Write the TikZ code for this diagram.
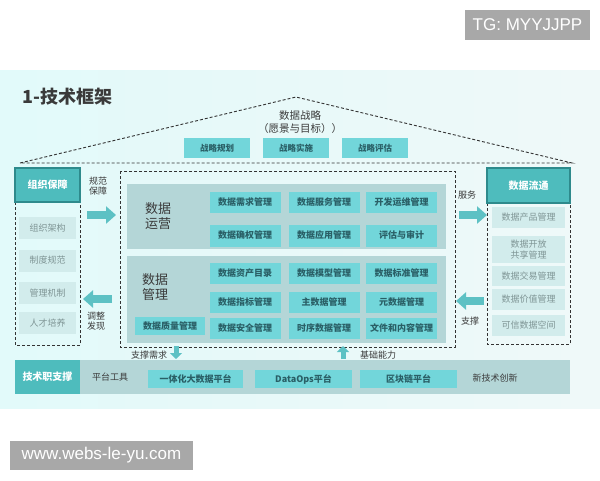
\documentclass[tikz,border=0pt]{standalone}
\usepackage{fontspec}
\setmainfont{Noto Sans CJK SC}
\newfontfamily\wmfont{Liberation Sans}
\usetikzlibrary{arrows.meta}
\definecolor{bgc}{HTML}{E5F5F5}
\definecolor{panelc}{HTML}{B4D6D7}
\definecolor{tboxc}{HTML}{72D6DA}
\definecolor{tboxt}{HTML}{2A5F66}
\definecolor{headc}{HTML}{4EBCBD}
\definecolor{headb}{HTML}{2E8A8C}
\definecolor{litec}{HTML}{D2ECEC}
\definecolor{litet}{HTML}{7F9595}
\definecolor{arrc}{HTML}{5DC1C4}
\definecolor{dashc}{HTML}{333333}
\definecolor{labc}{HTML}{3A3A3A}
\definecolor{wmc}{HTML}{A8A8A8}
\begin{document}
\begin{tikzpicture}[x=1pt,y=-1pt,
  tbox/.style={fill=tboxc, text=tboxt, font=\fontsize{9}{10}\selectfont\bfseries, inner sep=0pt, minimum width=71pt, minimum height=21pt},
  headbox/.style={fill=headc, draw=headb, line width=1.2pt, text=white, font=\fontsize{10}{12}\selectfont\bfseries, inner sep=0pt},
  litebox/.style={fill=litec, text=litet, font=\fontsize{9}{11.5}\selectfont, inner sep=0pt, align=center},
  panel/.style={fill=panelc, inner sep=0pt},
  dashbox/.style={draw=dashc, dashed, line width=0.9pt, dash pattern=on 3pt off 2pt},
  lab/.style={text=labc, font=\fontsize{9}{10.5}\selectfont, align=center, inner sep=0pt},
  biglab/.style={text=labc, font=\fontsize{13}{15}\selectfont, align=left, inner sep=0pt},
  bigarrow/.style={draw=arrc, line width=8pt, -{Triangle[length=10pt,width=17pt]}},
  smallarrow/.style={draw=arrc, line width=5pt, -{Triangle[length=6pt,width=12pt]}},
  wm/.style={fill=wmc, text=white, font=\wmfont\fontsize{17}{19}\selectfont, inner sep=0pt}
]
\useasboundingbox (0,0) rectangle (600,480);
\fill[white] (0,0) rectangle (600,480);
% background panel
\fill[left color=bgc!90!cyan!60!white, right color=bgc!60!white] (0,70) rectangle (600,408);
% watermarks
\node[wm, minimum width=125pt, minimum height=30pt] (wm1) at (527.5,25) {TG: MYYJJPP};
\node[wm, minimum width=183pt, minimum height=29pt] (wm2) at (101.5,455) {www.webs-le-yu.com};
% title
\node[anchor=west, text=labc, font=\fontsize{18}{20}\selectfont\bfseries, inner sep=0pt] (title) at (22,97) {1-技术框架};
% roof
\draw[dashbox] (20,163) -- (296,97) -- (572,163) -- cycle;
\node[text=labc, font=\fontsize{10.5}{13.5}\selectfont, align=center, inner sep=0pt] (strat) at (300,122) {数据战略\\（愿景与目标））};
\node[tbox, minimum width=66pt, minimum height=20pt, font=\fontsize{8.5}{10}\selectfont\bfseries] (s1) at (217,148) {战略规划};
\node[tbox, minimum width=66pt, minimum height=20pt, font=\fontsize{8.5}{10}\selectfont\bfseries] (s2) at (296,148) {战略实施};
\node[tbox, minimum width=66pt, minimum height=20pt, font=\fontsize{8.5}{10}\selectfont\bfseries] (s3) at (375,148) {战略评估};
% left column
\draw[dashbox] (15,202) rectangle (80,345);
\node[headbox, minimum width=65pt, minimum height=34pt] (lhead) at (47.5,185) {组织保障};
\node[litebox, minimum width=57pt, minimum height=22pt] (l1) at (47.5,228) {组织架构};
\node[litebox, minimum width=57pt, minimum height=22pt] (l2) at (47.5,260.5) {制度规范};
\node[litebox, minimum width=57pt, minimum height=22pt] (l3) at (47.5,293) {管理机制};
\node[litebox, minimum width=57pt, minimum height=22pt] (l4) at (47.5,323) {人才培养};
% right column
\draw[dashbox] (487,203) rectangle (570,344);
\node[headbox, minimum width=83pt, minimum height=35pt] (rhead) at (528.5,185.5) {数据流通};
\node[litebox, minimum width=73pt, minimum height=21pt] (r1) at (528.5,217.5) {数据产品管理};
\node[litebox, minimum width=73pt, minimum height=27pt] (r2) at (528.5,249.5) {数据开放\\共享管理};
\node[litebox, minimum width=73pt, minimum height=20pt] (r3) at (528.5,276) {数据交易管理};
\node[litebox, minimum width=73pt, minimum height=21pt] (r4) at (528.5,299.5) {数据价值管理};
\node[litebox, minimum width=73pt, minimum height=21pt] (r5) at (528.5,325.5) {可信数据空间};
% center
\draw[dashbox] (120,171) rectangle (455,347);
\node[panel, minimum width=319pt, minimum height=65pt] (ops) at (286.5,216.5) {};
\node[biglab] (opslab) at (158,216) {数据\\运营};
\node[tbox] (o1) at (245,202.5) {数据需求管理};
\node[tbox] (o2) at (324,202.5) {数据服务管理};
\node[tbox] (o3) at (401.5,202.5) {开发运维管理};
\node[tbox, minimum height=22pt] (o4) at (245,235.5) {数据确权管理};
\node[tbox, minimum height=22pt] (o5) at (324,235.5) {数据应用管理};
\node[tbox, minimum height=22pt] (o6) at (401.5,235.5) {评估与审计};
\node[panel, minimum width=319pt, minimum height=87pt] (mgmt) at (286.5,299.5) {};
\node[biglab] (mgmtlab) at (155,287) {数据\\管理};
\node[tbox] (m1) at (245,273.5) {数据资产目录};
\node[tbox] (m2) at (324,273.5) {数据模型管理};
\node[tbox] (m3) at (401.5,273.5) {数据标准管理};
\node[tbox] (m4) at (245,302) {数据指标管理};
\node[tbox] (m5) at (324,302) {主数据管理};
\node[tbox] (m6) at (401.5,302) {元数据管理};
\node[tbox] (m7) at (245,328.5) {数据安全管理};
\node[tbox] (m8) at (324,328.5) {时序数据管理};
\node[tbox] (m9) at (401.5,328.5) {文件和内容管理};
\node[tbox, minimum width=70pt, minimum height=18pt] (mq) at (170,326) {数据质量管理};
% bottom band
\node[panel, minimum width=555pt, minimum height=34pt] (band) at (292.5,377) {};
\node[fill=headc, text=white, font=\fontsize{10}{12}\selectfont\bfseries, inner sep=0pt, minimum width=65pt, minimum height=34pt] (bhead) at (47.5,377) {技术职支撑};
\node[lab] (ptool) at (110,377) {平台工具};
\node[tbox, minimum width=95pt, minimum height=18pt] (b1) at (195.5,379) {一体化大数据平台};
\node[tbox, minimum width=97pt, minimum height=18pt] (b2) at (303.5,379) {DataOps平台};
\node[tbox, minimum width=97pt, minimum height=18pt] (b3) at (408.5,379) {区块链平台};
\node[lab] (newtech) at (495,378) {新技术创新};
% arrows and labels
\coordinate (a1s) at (87,215); \coordinate (a1e) at (116,215);
\draw[bigarrow] (a1s) -- (a1e);
\node[lab] (a1lab) at (98,186) {规范\\保障};
\coordinate (a2s) at (112,299); \coordinate (a2e) at (83,299);
\draw[bigarrow] (a2s) -- (a2e);
\node[lab] (a2lab) at (96,321) {调整\\发现};
\coordinate (a3s) at (459,215); \coordinate (a3e) at (487,215);
\draw[bigarrow] (a3s) -- (a3e);
\node[lab] (a3lab) at (467,195) {服务};
\coordinate (a4s) at (484,301); \coordinate (a4e) at (456,301);
\draw[bigarrow] (a4s) -- (a4e);
\node[lab] (a4lab) at (470,321) {支撑};
\coordinate (a5s) at (176,346); \coordinate (a5e) at (176,359);
\draw[smallarrow] (a5s) -- (a5e);
\node[lab] (a5lab) at (149,355) {支撑需求};
\coordinate (a6s) at (343,359); \coordinate (a6e) at (343,346);
\draw[smallarrow] (a6s) -- (a6e);
\node[lab] (a6lab) at (378,355) {基础能力};
\end{tikzpicture}
\end{document}
